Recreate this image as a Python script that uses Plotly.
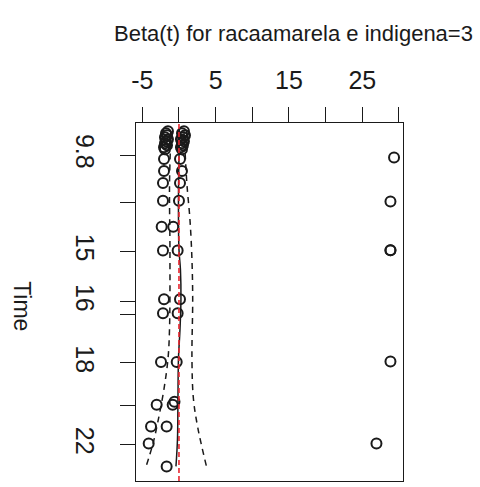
import plotly.graph_objects as go

# Scaled Schoenfeld residuals: transformed time (0 = first event, 1 = last) and beta(t)
time_left = [0.0, 0.0059, 0.0119, 0.0178, 0.0237, 0.0297, 0.0356, 0.0415, 0.0475, 0.0534,
             0.0831, 0.1187, 0.1543, 0.2077, 0.2849, 0.3561, 0.5015, 0.5430, 0.6884,
             0.8160, 0.8813, 0.9318]
beta_left = [-1.50, -1.77, -1.63, -1.91, -1.50, -1.77, -1.91, -1.63, -2.04, -1.91,
             -2.04, -2.04, -2.18, -2.18, -2.36, -2.18, -2.04, -2.18, -2.45,
             -3.04, -3.81, -4.13]

time_mid = [0.0, 0.0059, 0.0119, 0.0178, 0.0237, 0.0297, 0.0356, 0.0415, 0.0475, 0.0534,
            0.0831, 0.1187, 0.1543, 0.2077, 0.2849, 0.3561, 0.5015, 0.5430, 0.6884,
            0.8070, 0.8160, 0.8813, 1.0]
beta_mid = [0.68, 0.41, 0.82, 0.54, 0.27, 0.68, 0.41, 0.54, 0.27, 0.41,
            0.14, 0.41, 0.14, 0.0, -0.78, -0.18, 0.14, -0.18, -0.31,
            -0.61, -0.86, -1.68, -1.68]

time_far = [0.078, 0.2098, 0.3552, 0.3552, 0.687, 0.9318]
beta_far = [29.33, 28.84, 28.84, 28.84, 28.84, 26.93]

# Smoothed beta(t) and its confidence band
fit_time = [0.0, 0.2047, 0.3531, 0.4125, 0.5015, 0.5905, 0.6795, 0.7982, 0.9169, 1.0]
fit_beta = [0.07, -0.07, 0.0, 0.20, 0.27, 0.14, -0.07, -0.14, -0.20, -0.41]

upper_time = [0.0, 0.0861, 0.1602, 0.2641, 0.3828, 0.5015, 0.6795, 0.7982, 0.8872, 1.0]
upper_beta = [0.68, 0.89, 1.09, 1.50, 1.77, 1.87, 1.77, 1.97, 2.59, 3.75]

lower_time = [0.0, 0.1602, 0.3531, 0.5905, 0.6795, 0.7685, 0.8576, 0.9318, 1.0]
lower_beta = [-1.09, -1.29, -1.23, -1.29, -1.50, -2.04, -2.79, -3.54, -4.49]

# Axis ticks
beta_ticks = [-5, 0, 5, 10, 15, 20, 25, 30]
beta_labels = ["-5", "", "5", "", "15", "", "25", ""]
time_ticks = [0.0712, 0.2128, 0.3582, 0.5083, 0.546, 0.6914, 0.819, 0.9347]
time_labels = ["9.8", "", "15", "16", "", "18", "", "22"]

FONT = "Liberation Sans, Arial, sans-serif"
INK = "#1a1a1a"

fig = go.Figure()

marker = dict(symbol="circle-open", size=10, color=INK, line=dict(width=2, color=INK))
for t, b in [(time_left, beta_left), (time_mid, beta_mid), (time_far, beta_far)]:
    fig.add_trace(go.Scatter(x=b, y=t, mode="markers", marker=marker,
                             showlegend=False, hoverinfo="skip"))

fig.add_trace(go.Scatter(x=fit_beta, y=fit_time, mode="lines", line_shape="spline",
                         line=dict(color=INK, width=1.5), showlegend=False))
for t, b in [(upper_time, upper_beta), (lower_time, lower_beta)]:
    fig.add_trace(go.Scatter(x=b, y=t, mode="lines", line_shape="spline",
                             line=dict(color=INK, width=1.5, dash="6px,5px"),
                             showlegend=False))

# Reference line at beta = 0
fig.add_shape(type="line", xref="x", yref="paper", x0=0, x1=0, y0=0, y1=1,
              line=dict(color="#e8262f", width=1.6, dash="5px,3px"))

fig.update_xaxes(side="top", range=[-5.86, 30.55], tickmode="array",
                 tickvals=beta_ticks, ticktext=beta_labels,
                 ticks="outside", ticklen=15, tickwidth=1.4, tickcolor=INK,
                 showline=True, mirror=True, linecolor=INK, linewidth=1.4,
                 showgrid=False, zeroline=False,
                 tickfont=dict(family=FONT, size=25, color=INK),
                 ticklabelstandoff=8)
fig.update_yaxes(range=[1.0436, -0.0246], tickmode="array",
                 tickvals=time_ticks, ticktext=time_labels, tickangle=90,
                 ticks="outside", ticklen=15, tickwidth=1.4, tickcolor=INK,
                 showline=True, mirror=True, linecolor=INK, linewidth=1.4,
                 showgrid=False, zeroline=False,
                 tickfont=dict(family=FONT, size=25, color=INK),
                 ticklabelstandoff=14)

fig.add_annotation(text="Beta(t) for racaamarela e indigena=3", xref="paper", yref="paper",
                   x=(294 - 136) / 267.3, y=1 + (122.7 - 33) / 360,
                   xanchor="center", yanchor="middle", showarrow=False,
                   font=dict(family=FONT, size=22, color=INK))
fig.add_annotation(text="Time", xref="paper", yref="paper",
                   x=(22 - 136) / 267.3, y=1 - (307 - 122.7) / 360,
                   xanchor="center", yanchor="middle", showarrow=False, textangle=90,
                   font=dict(family=FONT, size=23, color=INK))

fig.update_layout(width=480, height=487,
                  margin=dict(l=136, r=76.7, t=122.7, b=4.3),
                  plot_bgcolor="white", paper_bgcolor="white")

fig.write_html("out.html")
